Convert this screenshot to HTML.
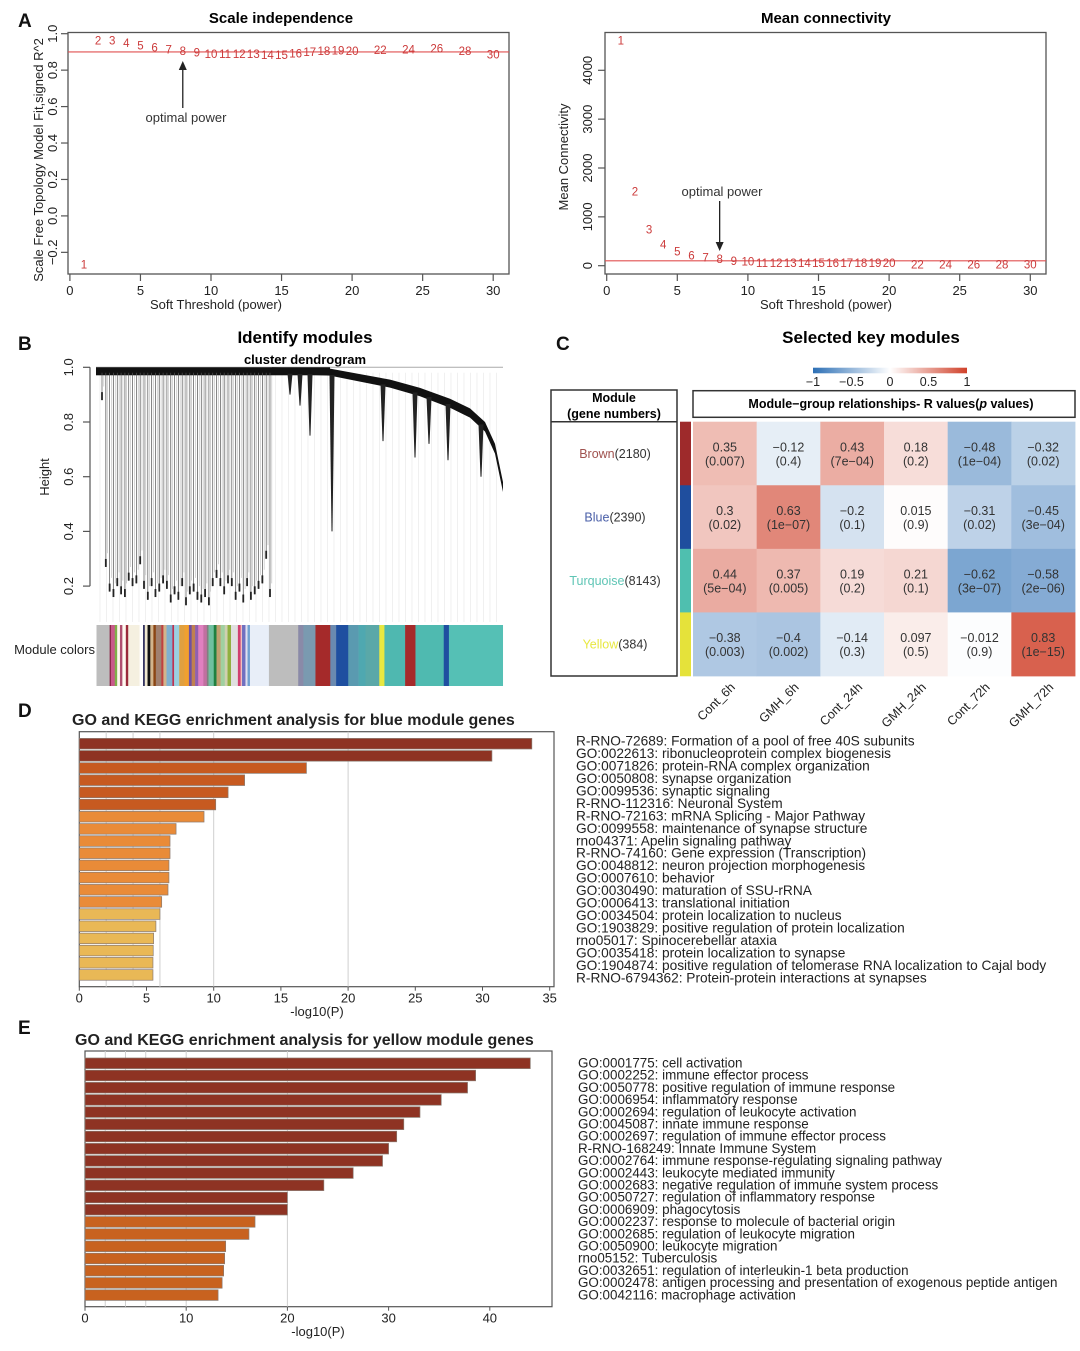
<!DOCTYPE html>
<html><head><meta charset="utf-8"><style>
html,body{margin:0;padding:0;background:#fff;}
svg{display:block;font-family:"Liberation Sans",Arial,sans-serif;}
</style></head><body>
<svg id="fig" xmlns="http://www.w3.org/2000/svg" width="1080" height="1351" viewBox="0 0 1080 1351">
<rect x="0" y="0" width="1080" height="1351" fill="#fff"/>
<defs>
<linearGradient id="divgrad" x1="0" x2="1" y1="0" y2="0">
<stop offset="0" stop-color="#2c6fb5"/><stop offset="0.5" stop-color="#ffffff"/><stop offset="1" stop-color="#d0412a"/>
</linearGradient>
</defs>
<g font-weight="bold" font-size="19" fill="#111">
<text x="18" y="27">A</text>
<text x="18" y="350">B</text>
<text x="556" y="350">C</text>
<text x="18" y="717">D</text>
<text x="18" y="1034">E</text>
</g>
<text x="281" y="23" font-size="15" font-weight="bold" text-anchor="middle">Scale independence</text>
<text x="826" y="23" font-size="15" font-weight="bold" text-anchor="middle">Mean connectivity</text>
<text x="216" y="309" font-size="13" text-anchor="middle" fill="#222">Soft Threshold (power)</text>
<text x="826" y="309" font-size="13" text-anchor="middle" fill="#222">Soft Threshold (power)</text>
<text transform="translate(43,160) rotate(-90)" font-size="13" text-anchor="middle" fill="#222">Scale Free Topology Model Fit,signed R^2</text>
<text transform="translate(568,157) rotate(-90)" font-size="13" text-anchor="middle" fill="#222">Mean Connectivity</text>
<text x="305" y="343" font-size="17" font-weight="bold" text-anchor="middle">Identify modules</text>
<text x="305" y="364" font-size="13" font-weight="bold" text-anchor="middle">cluster dendrogram</text>
<text transform="translate(49,477) rotate(-90)" font-size="13" text-anchor="middle" fill="#222">Height</text>
<text x="95" y="654" font-size="13" text-anchor="end" fill="#222">Module colors</text>
<text x="871" y="343" font-size="17" font-weight="bold" text-anchor="middle">Selected key modules</text>
<rect x="813" y="367.7" width="154" height="5.6" fill="url(#divgrad)"/>
<rect x="551" y="390" width="126" height="286" fill="none" stroke="#333" stroke-width="1.5"/>
<line x1="551" y1="421.7" x2="677" y2="421.7" stroke="#333" stroke-width="1.5"/>
<text x="614" y="402" font-size="12.5" font-weight="bold" text-anchor="middle">Module</text>
<text x="614" y="418" font-size="12.5" font-weight="bold" text-anchor="middle">(gene numbers)</text>
<rect x="693" y="390.7" width="382" height="26.6" fill="none" stroke="#333" stroke-width="1.5"/>
<text x="891" y="408" font-size="12.5" font-weight="bold" text-anchor="middle">Module−group relationships- R values(<tspan font-style="italic">p</tspan> values)</text>
<text x="72" y="725" font-size="16" font-weight="bold" fill="#222">GO and KEGG enrichment analysis for blue module genes</text>
<text x="75" y="1045" font-size="16" font-weight="bold" fill="#222">GO and KEGG enrichment analysis for yellow module genes</text>
<text x="317" y="1016" font-size="13" text-anchor="middle" fill="#222">-log10(P)</text>
<text x="318" y="1336" font-size="13" text-anchor="middle" fill="#222">-log10(P)</text>
</svg>
<script>
const powers = [1,2,3,4,5,6,7,8,9,10,11,12,13,14,15,16,17,18,19,20,22,24,26,28,30];
const r2Vals = [-0.273,0.956,0.956,0.943,0.929,0.918,0.907,0.9,0.892,0.883,0.883,0.883,0.883,0.878,0.878,0.886,0.895,0.9,0.903,0.9,0.905,0.909,0.913,0.9,0.88];
const kVals = [4585,1502,716,409,274,192,150,116,75,61,34,34,34,34,34,34,34,34,34,34,0,0,0,0,0];
const xTicksA = [0,5,10,15,20,25,30];
const yTicksR2 = [-0.2,0,0.2,0.4,0.6,0.8,1.0];
const yTickLabelsR2 = ["\u22120.2","0.0","0.2","0.4","0.6","0.8","1.0"];
const yTicksK = [0,1000,2000,3000,4000];
const r2Cut = 0.9;
const kCut = 100;
const optimalPower = 8;

const leafHeights = [0.88,0.27,0.18,0.16,0.2,0.17,0.16,0.22,0.2,0.21,0.28,0.19,0.15,0.2,0.16,0.18,0.21,0.19,0.14,0.17,0.15,0.2,0.13,0.17,0.18,0.15,0.14,0.16,0.13,0.2,0.23,0.2,0.17,0.21,0.2,0.15,0.18,0.14,0.2,0.15,0.17,0.19,0.21,0.3,0.16];
const rightDrops = [0.75,0.4,0.9,0.86,0.73,0.67,0.72,0.66,0.6];
const moduleSegColors = ["#bdbdbd","#8b2a4a","#c85a8a","#7fb04a","#fff8f0","#b05070","#fffaf0","#9a2a3a","#f5f0e0","#ffffff","#2a2a5a","#f0e8d0","#111111","#d2b48c","#8b4513","#a08070","#c04040","#d2b48c","#80b0d0","#c03050","#9ad0e0","#e0a040","#f0a030","#7050a0","#c08050","#9060b0","#e080c0","#c070a0","#808080","#70c0a0","#208040","#c0a070","#a0d0a0","#d0d0b0","#90b040","#e0e0e0","#d04070","#f0c0c0","#7070c0","#e0e0f0","#70a0d0","#e8eef8","#bdbdbd","#8a8aa8","#7a9ab0","#a52a2a","#6a8ab0","#1f4fa0","#5a9ab0","#4fa8b0","#5aa8a8","#e8e840","#4fb8b0","#a52a2a","#4fbab0","#1f4fa0","#55c0b5"];
const moduleSegEnds = [318,322,333,340,348,355,365,372,405,415,420,428,436,445,452,468,474,483,500,505,520,535,548,556,566,575,590,600,605,620,628,640,652,660,670,690,698,702,712,718,725,780,865,880,915,958,975,1010,1040,1060,1100,1115,1175,1205,1287,1302,1458];

const modules = ["Brown","Blue","Turquoise","Yellow"];
const geneCounts = [2180,2390,8143,384];
const groups = ["Cont_6h","GMH_6h","Cont_24h","GMH_24h","Cont_72h","GMH_72h"];
const rBrown = [0.35,-0.12,0.43,0.18,-0.48,-0.32];
const rBlue = [0.3,0.63,-0.2,0.015,-0.31,-0.45];
const rTurq = [0.44,0.37,0.19,0.21,-0.62,-0.58];
const rYellow = [-0.38,-0.4,-0.14,0.097,-0.012,0.83];
const pBrown = ["0.007","0.4","7e\u221204","0.2","1e\u221204","0.02"];
const pBlue = ["0.02","1e\u221207","0.1","0.9","0.02","3e\u221204"];
const pTurq = ["5e\u221204","0.005","0.2","0.1","3e\u221207","2e\u221206"];
const pYellow = ["0.003","0.002","0.3","0.5","0.9","1e\u221215"];
const scaleTicks = [-1,-0.5,0,0.5,1];
const scaleTickLabels = ["\u22121","\u22120.5","0","0.5","1"];

const blueTerms = ["R-RNO-72689: Formation of a pool of free 40S subunits","GO:0022613: ribonucleoprotein complex biogenesis","GO:0071826: protein-RNA complex organization","GO:0050808: synapse organization","GO:0099536: synaptic signaling","R-RNO-112316: Neuronal System","R-RNO-72163: mRNA Splicing - Major Pathway","GO:0099558: maintenance of synapse structure","rno04371: Apelin signaling pathway","R-RNO-74160: Gene expression (Transcription)","GO:0048812: neuron projection morphogenesis","GO:0007610: behavior","GO:0030490: maturation of SSU-rRNA","GO:0006413: translational initiation","GO:0034504: protein localization to nucleus","GO:1903829: positive regulation of protein localization","rno05017: Spinocerebellar ataxia","GO:0035418: protein localization to synapse","GO:1904874: positive regulation of telomerase RNA localization to Cajal body","R-RNO-6794362: Protein-protein interactions at synapses"];
const blueVals = [33.67,30.7,16.9,12.3,11.07,10.15,9.28,7.2,6.75,6.75,6.67,6.67,6.6,6.13,6.0,5.7,5.53,5.5,5.48,5.48];
const blueTicks = [0,5,10,15,20,25,30,35];
const yellowTerms = ["GO:0001775: cell activation","GO:0002252: immune effector process","GO:0050778: positive regulation of immune response","GO:0006954: inflammatory response","GO:0002694: regulation of leukocyte activation","GO:0045087: innate immune response","GO:0002697: regulation of immune effector process","R-RNO-168249: Innate Immune System","GO:0002764: immune response-regulating signaling pathway","GO:0002443: leukocyte mediated immunity","GO:0002683: negative regulation of immune system process","GO:0050727: regulation of inflammatory response","GO:0006909: phagocytosis","GO:0002237: response to molecule of bacterial origin","GO:0002685: regulation of leukocyte migration","GO:0050900: leukocyte migration","rno05152: Tuberculosis","GO:0032651: regulation of interleukin-1 beta production","GO:0002478: antigen processing and presentation of exogenous peptide antigen","GO:0042116: macrophage activation"];
const yellowVals = [44.0,38.6,37.8,35.2,33.1,31.5,30.8,30.0,29.4,26.5,23.6,20.0,20.0,16.8,16.2,13.9,13.8,13.7,13.55,13.15];
const yellowTicks = [0,10,20,30,40];
const gridVals = [2,4,6,10,20];

const NS = 'http://www.w3.org/2000/svg';
const svg = document.getElementById('fig');
function mk(parent, tag, attrs, text){
  const e = document.createElementNS(NS, tag);
  for (const k in attrs) e.setAttribute(k, attrs[k]);
  if (text != null) e.textContent = text;
  parent.appendChild(e);
  return e;
}
function grp(name){
  const g = mk(svg, 'g', {});
  
  
  return g;
}

(function(){
  const g = grp('scale-independence-plot');
  const x = v => 69.9 + v * 14.11;
  const y = v => 33.7 + (1 - v) * 182.2;
  let el = mk(g, 'rect', {x:68, y:32.5, width:441, height:241.5, fill:'none', stroke:'#555', 'stroke-width':1.3});
  
  
  xTicksA.forEach(t => {
    el = mk(g, 'line', {x1:x(t), x2:x(t), y1:274, y2:281, stroke:'#555', 'stroke-width':1.2});
    
    
    el = mk(g, 'text', {x:x(t), y:295, 'font-size':13, 'text-anchor':'middle', fill:'#222'}, String(t));
    
    
  });
  yTicksR2.forEach((t, i) => {
    el = mk(g, 'line', {x1:61, x2:68, y1:y(t), y2:y(t), stroke:'#555', 'stroke-width':1.2});
    
    
    el = mk(g, 'text', {transform:`translate(57,${y(t)}) rotate(-90)`, 'font-size':13, 'text-anchor':'middle', fill:'#222'}, yTickLabelsR2[i]);
    
    
  });
  el = mk(g, 'line', {x1:68, x2:509, y1:y(r2Cut), y2:y(r2Cut), stroke:'#e05050', 'stroke-width':1.2});
  
  
  powers.forEach((p, i) => {
    el = mk(g, 'text', {x:x(p), y:y(r2Vals[i]), 'font-size':11.5, 'text-anchor':'middle', 'dominant-baseline':'central', fill:'#cc3a3a'}, String(p));
    
    
  });
  const ax = x(optimalPower);
  el = mk(g, 'line', {x1:ax, x2:ax, y1:108, y2:68, stroke:'#222', 'stroke-width':1.3});
  
  
  el = mk(g, 'polygon', {points:`${ax-4},70 ${ax+4},70 ${ax},61`, fill:'#222'});
  
  
  el = mk(g, 'text', {x:186, y:122, 'font-size':13, 'text-anchor':'middle', fill:'#333'}, 'optimal power');
  
  
})();

(function(){
  const g = grp('mean-connectivity-plot');
  const x = v => 606.7 + v * 14.12;
  const y = v => 265.7 - v * 0.04885;
  let el = mk(g, 'rect', {x:605, y:32.5, width:441, height:241.5, fill:'none', stroke:'#555', 'stroke-width':1.3});
  
  
  xTicksA.forEach(t => {
    el = mk(g, 'line', {x1:x(t), x2:x(t), y1:274, y2:281, stroke:'#555', 'stroke-width':1.2});
    
    
    el = mk(g, 'text', {x:x(t), y:295, 'font-size':13, 'text-anchor':'middle', fill:'#222'}, String(t));
    
    
  });
  yTicksK.forEach(t => {
    el = mk(g, 'line', {x1:598, x2:605, y1:y(t), y2:y(t), stroke:'#555', 'stroke-width':1.2});
    
    
    el = mk(g, 'text', {transform:`translate(592,${y(t)}) rotate(-90)`, 'font-size':13, 'text-anchor':'middle', fill:'#222'}, String(t));
    
    
  });
  el = mk(g, 'line', {x1:605, x2:1046, y1:y(kCut), y2:y(kCut), stroke:'#e05050', 'stroke-width':1.2});
  
  
  powers.forEach((p, i) => {
    el = mk(g, 'text', {x:x(p), y:y(kVals[i]), 'font-size':11.5, 'text-anchor':'middle', 'dominant-baseline':'central', fill:'#cc3a3a'}, String(p));
    
    
  });
  const ax = x(optimalPower);
  el = mk(g, 'line', {x1:ax, x2:ax, y1:201, y2:244, stroke:'#222', 'stroke-width':1.3});
  
  
  el = mk(g, 'polygon', {points:`${ax-4},242 ${ax+4},242 ${ax},251`, fill:'#222'});
  
  
  el = mk(g, 'text', {x:722, y:196, 'font-size':13, 'text-anchor':'middle', fill:'#333'}, 'optimal power');
  
  
})();

(function(){
  const g = grp('cluster-dendrogram');
  const y = h => 367.3 + (1 - h) * 273.5;
  let el;
  [1.0,0.8,0.6,0.4,0.2].forEach(t => {
    el = mk(g, 'line', {x1:83, x2:90, y1:y(t), y2:y(t), stroke:'#555', 'stroke-width':1.2});
    
    
    el = mk(g, 'text', {transform:`translate(73,${y(t)}) rotate(-90)`, 'font-size':13, 'text-anchor':'middle', fill:'#222'}, t.toFixed(1));
    
    
  });
  el = mk(g, 'line', {x1:90, x2:90, y1:y(1.0), y2:y(0.2), stroke:'#555', 'stroke-width':1.2});
  
  
  el = mk(g, 'line', {x1:96, x2:503, y1:y(1.0), y2:y(1.0), stroke:'#aaa', 'stroke-width':1});
  
  
  for (let xx = 100; xx < 503; xx += 6.5) {
    el = mk(g, 'line', {x1:xx, x2:xx, y1:y(0.98), y2:622, stroke:'#ececec', 'stroke-width':0.8});
    
    
  }
  el = mk(g, 'rect', {x:96, y:y(1.0), width:234, height:8, fill:'#111'});
  
  
  const n = leafHeights.length;
  leafHeights.forEach((h, i) => {
    const xx = 102 + i * (168 / (n - 1));
    el = mk(g, 'line', {x1:xx, x2:xx, y1:y(0.98), y2:y(h), stroke:'#555', 'stroke-width':0.7});
    
    
    el = mk(g, 'line', {x1:xx+1.8, x2:xx+1.8, y1:y(0.97), y2:y(h + 0.05), stroke:'#bbb', 'stroke-width':0.6});
    
    
    el = mk(g, 'rect', {x:xx-0.9, y:y(h)-8, width:1.8, height:8, fill:'#222'});
    
    
  });
  const curve = [[272,1.0],[330,0.995],[360,0.975],[390,0.955],[420,0.925],[450,0.885],[470,0.85],[485,0.8],[495,0.72],[503,0.58]];
  let top = curve.map(p => `${p[0]},${y(p[1])}`).join(' ');
  let bot = curve.slice().reverse().map(p => `${p[0]},${y(p[1]) + 6 + (p[0]-272)/60}`).join(' ');
  el = mk(g, 'polygon', {points: top + ' ' + bot, fill:'#111'});
  
  
  const dropX = [310,332,290,300,383,415,429,448,481];
  rightDrops.forEach((h, i) => {
    const xx = dropX[i];
    let hc = 1.0;
    for (let k = 1; k < curve.length; k++) { if (curve[k][0] >= xx) { const a = curve[k-1], b = curve[k]; hc = a[1] + (b[1]-a[1])*(xx-a[0])/(b[0]-a[0]); break; } }
    el = mk(g, 'polygon', {points:`${xx-2.5},${y(hc)+6} ${xx+2.5},${y(hc)+6} ${xx+0.5},${y(h)} ${xx-0.5},${y(h)}`, fill:'#222'});
    
    
  });
  let prev = 280;
  moduleSegColors.forEach((c, i) => {
    const x0 = 96.5 + (prev - 280) / 2.9, x1 = 96.5 + (moduleSegEnds[i] - 280) / 2.9;
    el = mk(g, 'rect', {x:x0, y:625, width:Math.max(0.5, x1 - x0 + 0.3), height:61, fill:c});
    
    
    prev = moduleSegEnds[i];
  });
})();

(function(){
  const g = grp('module-group-heatmap');
  const rVals = [rBrown, rBlue, rTurq, rYellow];
  const pVals = [pBrown, pBlue, pTurq, pYellow];
  const modColors = ["#9e2a2b","#1f4e9e","#4fbfaf","#e5e23a"];
  const modTextColors = ["#a0524f","#4a5fa8","#5fc5b5","#e8e840"];
  const x0 = 693, cw = 63.67, y0 = 421.7, rh = 63.57;
  const sx = v => 890 + v * 77;
  function col(v){
    const neg = [44,111,181], pos = [208,65,42];
    const c = v < 0 ? neg : pos, a = Math.min(1, Math.abs(v));
    return `rgb(${Math.round(255+(c[0]-255)*a)},${Math.round(255+(c[1]-255)*a)},${Math.round(255+(c[2]-255)*a)})`;
  }
  let el;
  scaleTicks.forEach((t, i) => {
    el = mk(g, 'text', {x:sx(t), y:386, 'font-size':12.5, 'text-anchor':'middle', fill:'#222'}, scaleTickLabels[i]);
    
    
  });
  modules.forEach((m, r) => {
    const cy = y0 + r * rh + rh / 2;
    el = mk(g, 'rect', {x:680, y:y0 + r*rh, width:11, height:rh + 0.3, fill:modColors[r]});
    
    
    el = mk(g, 'text', {x:615, y:cy + 4.5, 'font-size':12.5, 'text-anchor':'middle', fill:'#333'});
    
    
    const t1 = mk(el, 'tspan', {fill:modTextColors[r]}, m);
    
    
    const t2 = mk(el, 'tspan', {}, '(' + geneCounts[r] + ')');
    
    
    groups.forEach((gname, c) => {
      const v = rVals[r][c];
      el = mk(g, 'rect', {x:x0 + c*cw, y:y0 + r*rh, width:cw + 0.4, height:rh + 0.4, fill:col(v)});
      
      
      const cx = x0 + c*cw + cw/2;
      el = mk(g, 'text', {x:cx, y:cy - 2, 'font-size':12.5, 'text-anchor':'middle', fill:'#333'}, String(v).replace('-', '\u2212'));
      
      
      el = mk(g, 'text', {x:cx, y:cy + 12, 'font-size':12.5, 'text-anchor':'middle', fill:'#333'}, '(' + pVals[r][c] + ')');
      
      
    });
  });
  groups.forEach((gname, c) => {
    const cx = x0 + c*cw + cw/2 + 11;
    el = mk(g, 'text', {transform:`translate(${cx},688) rotate(-45)`, 'font-size':12.5, 'text-anchor':'end', fill:'#222'}, gname);
    
    
  });
})();

function enrich(name, terms, vals, ticks, cfg){
  const g = grp(name);
  const x = v => cfg.x0 + v * cfg.k;
  let el = mk(g, 'rect', {x:cfg.x0, y:cfg.top, width:cfg.right - cfg.x0, height:cfg.bottom - cfg.top, fill:'#fff', stroke:'#555', 'stroke-width':1.2});
  
  
  gridVals.forEach(v => {
    el = mk(g, 'line', {x1:x(v), x2:x(v), y1:cfg.top, y2:cfg.bottom, stroke:'#cfcfcf', 'stroke-width':1});
    
    
  });
  vals.forEach((v, i) => {
    const cy = cfg.barY0 + i * cfg.barStep;
    el = mk(g, 'rect', {x:cfg.x0, y:cy - 5.3, width:x(v) - cfg.x0, height:10.6, fill:cfg.color(v), stroke:'#8a7a70', 'stroke-width':0.7});
    
    
    el = mk(svg, 'text', {x:cfg.labelX, y:cfg.labelY0 + i * cfg.labelStep + 4.5, 'font-size':cfg.fs, fill:'#222'}, terms[i]);
    
    
  });
  ticks.forEach(t => {
    el = mk(g, 'line', {x1:x(t), x2:x(t), y1:cfg.bottom, y2:cfg.bottom + 4, stroke:'#555', 'stroke-width':1});
    
    
    el = mk(g, 'text', {x:x(t), y:cfg.bottom + 16, 'font-size':13, 'text-anchor':'middle', fill:'#222'}, String(t));
    
    
  });
}
enrich('blue-enrichment-chart', blueTerms, blueVals, blueTicks, {
  x0:79.3, k:13.44, right:554, top:731.7, bottom:986.7, barY0:743.7, barStep:12.17,
  labelX:576, labelY0:741, labelStep:12.47, fs:13.7,
  color: v => v > 20 ? '#8e3323' : v > 10 ? '#c75a20' : v > 6.1 ? '#e98b38' : '#e9b856'
});
enrich('yellow-enrichment-chart', yellowTerms, yellowVals, yellowTicks, {
  x0:85, k:10.12, right:552, top:1051, bottom:1306.7, barY0:1063.3, barStep:12.2,
  labelX:578, labelY0:1063, labelStep:12.2, fs:13.4,
  color: v => v >= 20 ? '#8e3323' : '#c8621f'
});
</script>
</body></html>
